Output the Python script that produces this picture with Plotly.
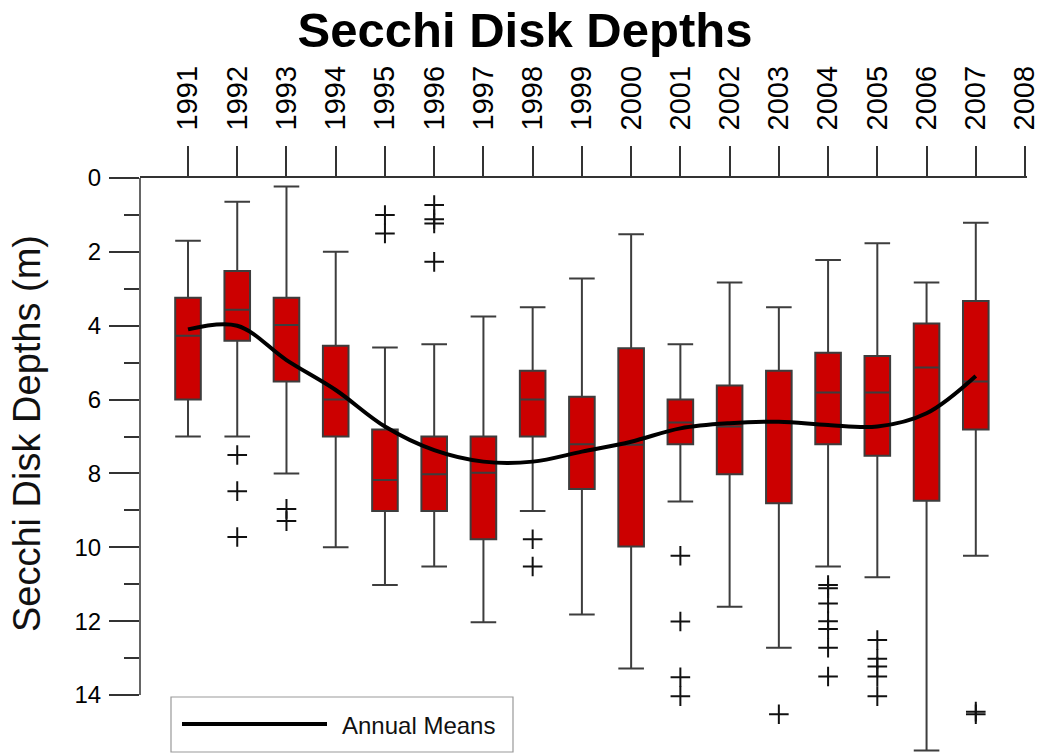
import plotly.graph_objects as go

# Years sampled and axis tick years
years = [1991, 1992, 1993, 1994, 1995, 1996, 1997, 1998, 1999,
         2000, 2001, 2002, 2003, 2004, 2005, 2006, 2007]
tick_years = years + [2008]

# Box statistics (depth in metres)
whisker_low = [1.7, 0.64, 0.23, 2.0, 4.59, 4.5, 3.75, 3.5, 2.72,
               1.52, 4.5, 2.83, 3.5, 2.22, 1.77, 2.83, 1.21]
q1 = [3.24, 2.52, 3.24, 4.54, 6.81, 7.0, 7.0, 5.22, 5.92,
      4.61, 6.0, 5.62, 5.22, 4.73, 4.82, 3.94, 3.33]
median = [4.27, 3.57, 3.98, 6.0, 8.18, 8.02, 7.98, 6.0, 7.21,
          7.22, 6.62, 6.73, 6.6, 5.81, 5.81, 5.13, 5.51]
q3 = [6.0, 4.41, 5.51, 7.0, 9.02, 9.02, 9.78, 7.0, 8.42,
      9.98, 7.21, 8.02, 8.81, 7.21, 7.52, 8.74, 6.81]
whisker_high = [7.0, 7.0, 8.0, 10.0, 11.02, 10.52, 12.03, 9.02, 11.82,
                13.28, 8.76, 11.61, 12.72, 10.52, 10.81, 15.5, 10.23]

# Outliers per year
outliers = {
    1992: [7.5, 8.48, 9.72],
    1993: [8.96, 9.29],
    1995: [1.0, 1.5],
    1996: [0.73, 1.12, 1.23, 2.27],
    1998: [9.78, 10.52],
    2001: [10.23, 12.01, 13.52, 14.03],
    2003: [14.52],
    2004: [11.02, 11.11, 11.52, 12.0, 12.21, 12.72, 13.5],
    2005: [12.51, 13.02, 13.23, 13.5, 14.03],
    2007: [14.45, 14.52],
}

# Annual mean depths
annual_means = [4.1, 4.0, 4.93, 5.74, 6.73, 7.37, 7.68, 7.68, 7.41,
                7.14, 6.78, 6.64, 6.60, 6.69, 6.73, 6.37, 5.36]

y_major = [0, 2, 4, 6, 8, 10, 12, 14]
y_minor = [1, 3, 5, 7, 9, 11, 13]

W, H = 1042, 753
L, R, T, B = 140, 15, 178, 0
PW, PH = W - L - R, H - T - B


def px(x):
    return (x - L) / PW


def py(y):
    return (H - B - y) / PH


FONT = "Liberation Sans, Arial, sans-serif"
AXC = "#333333"

fig = go.Figure()

fig.add_trace(go.Box(
    x=years, q1=q1, median=median, q3=q3,
    lowerfence=whisker_low, upperfence=whisker_high,
    width=0.52, whiskerwidth=1,
    fillcolor="#CC0000",
    line=dict(color="#3d3d3d", width=2),
    boxpoints=False, showlegend=False, hoverinfo="skip",
))

ox, oy = [], []
for yr, vals in outliers.items():
    for v in vals:
        ox.append(yr)
        oy.append(v)
fig.add_trace(go.Scatter(
    x=ox, y=oy, mode="markers",
    marker=dict(symbol="cross-thin", size=14,
                line=dict(color="#111111", width=2)),
    showlegend=False, hoverinfo="skip",
))

fig.add_trace(go.Scatter(
    x=years, y=annual_means, mode="lines",
    line=dict(color="#000000", width=4, shape="spline", smoothing=1.0),
    name="Annual Means", showlegend=False,
))

fig.update_layout(
    width=W, height=H,
    margin=dict(l=L, r=R, t=T, b=B),
    paper_bgcolor="white", plot_bgcolor="white",
    font=dict(family=FONT, color="#111111"),
    title=dict(text="<b>Secchi Disk Depths</b>", x=525 / W, xanchor="center",
               y=1 - 30 / H, yanchor="middle", yref="container",
               font=dict(size=49, family=FONT, color="#000000")),
    xaxis=dict(
        side="top", range=[1990.025, 2008.04],
        tickvals=tick_years, ticktext=[str(y) for y in tick_years],
        tickangle=-90, tickfont=dict(size=29, family=FONT, color="#000000"),
        ticks="outside", ticklen=30, tickwidth=1.5, tickcolor=AXC,
        ticklabelstandoff=10,
        showline=True, linecolor=AXC, linewidth=1.5,
        showgrid=False, zeroline=False,
    ),
    yaxis=dict(
        range=[15.57, 0],
        tickvals=y_major, ticktext=[str(v) for v in y_major],
        tickfont=dict(size=24, family=FONT, color="#000000"),
        ticks="outside", ticklen=30, tickwidth=1.5, tickcolor=AXC,
        ticklabelstandoff=3,
        minor=dict(tickvals=y_minor, ticks="outside", ticklen=15,
                   tickwidth=1.5, tickcolor=AXC, showgrid=False),
        showline=False, showgrid=False, zeroline=False,
    ),
)

# Left spine spanning the labelled depth range
fig.add_shape(type="line", xref="paper", yref="y", x0=0, x1=0, y0=0, y1=14,
              line=dict(color=AXC, width=1.5))

# Y axis title
fig.add_annotation(text="Secchi Disk Depths (m)", xref="paper", yref="paper",
                   x=px(27), y=py(434), textangle=-90, showarrow=False,
                   xanchor="center", yanchor="middle",
                   font=dict(size=38, family=FONT, color="#111111"))

# Legend box
fig.add_shape(type="rect", xref="paper", yref="paper",
              x0=px(171), x1=px(513), y0=py(752), y1=py(697),
              line=dict(color="#999999", width=1.2), fillcolor="white")
fig.add_shape(type="line", xref="paper", yref="paper",
              x0=px(182), x1=px(327), y0=py(724), y1=py(724),
              line=dict(color="#000000", width=4))
fig.add_annotation(text="Annual Means", xref="paper", yref="paper",
                   x=px(340), y=py(725), xanchor="left", yanchor="middle",
                   showarrow=False,
                   font=dict(size=24, family=FONT, color="#111111"))

fig.write_html("out.html")
